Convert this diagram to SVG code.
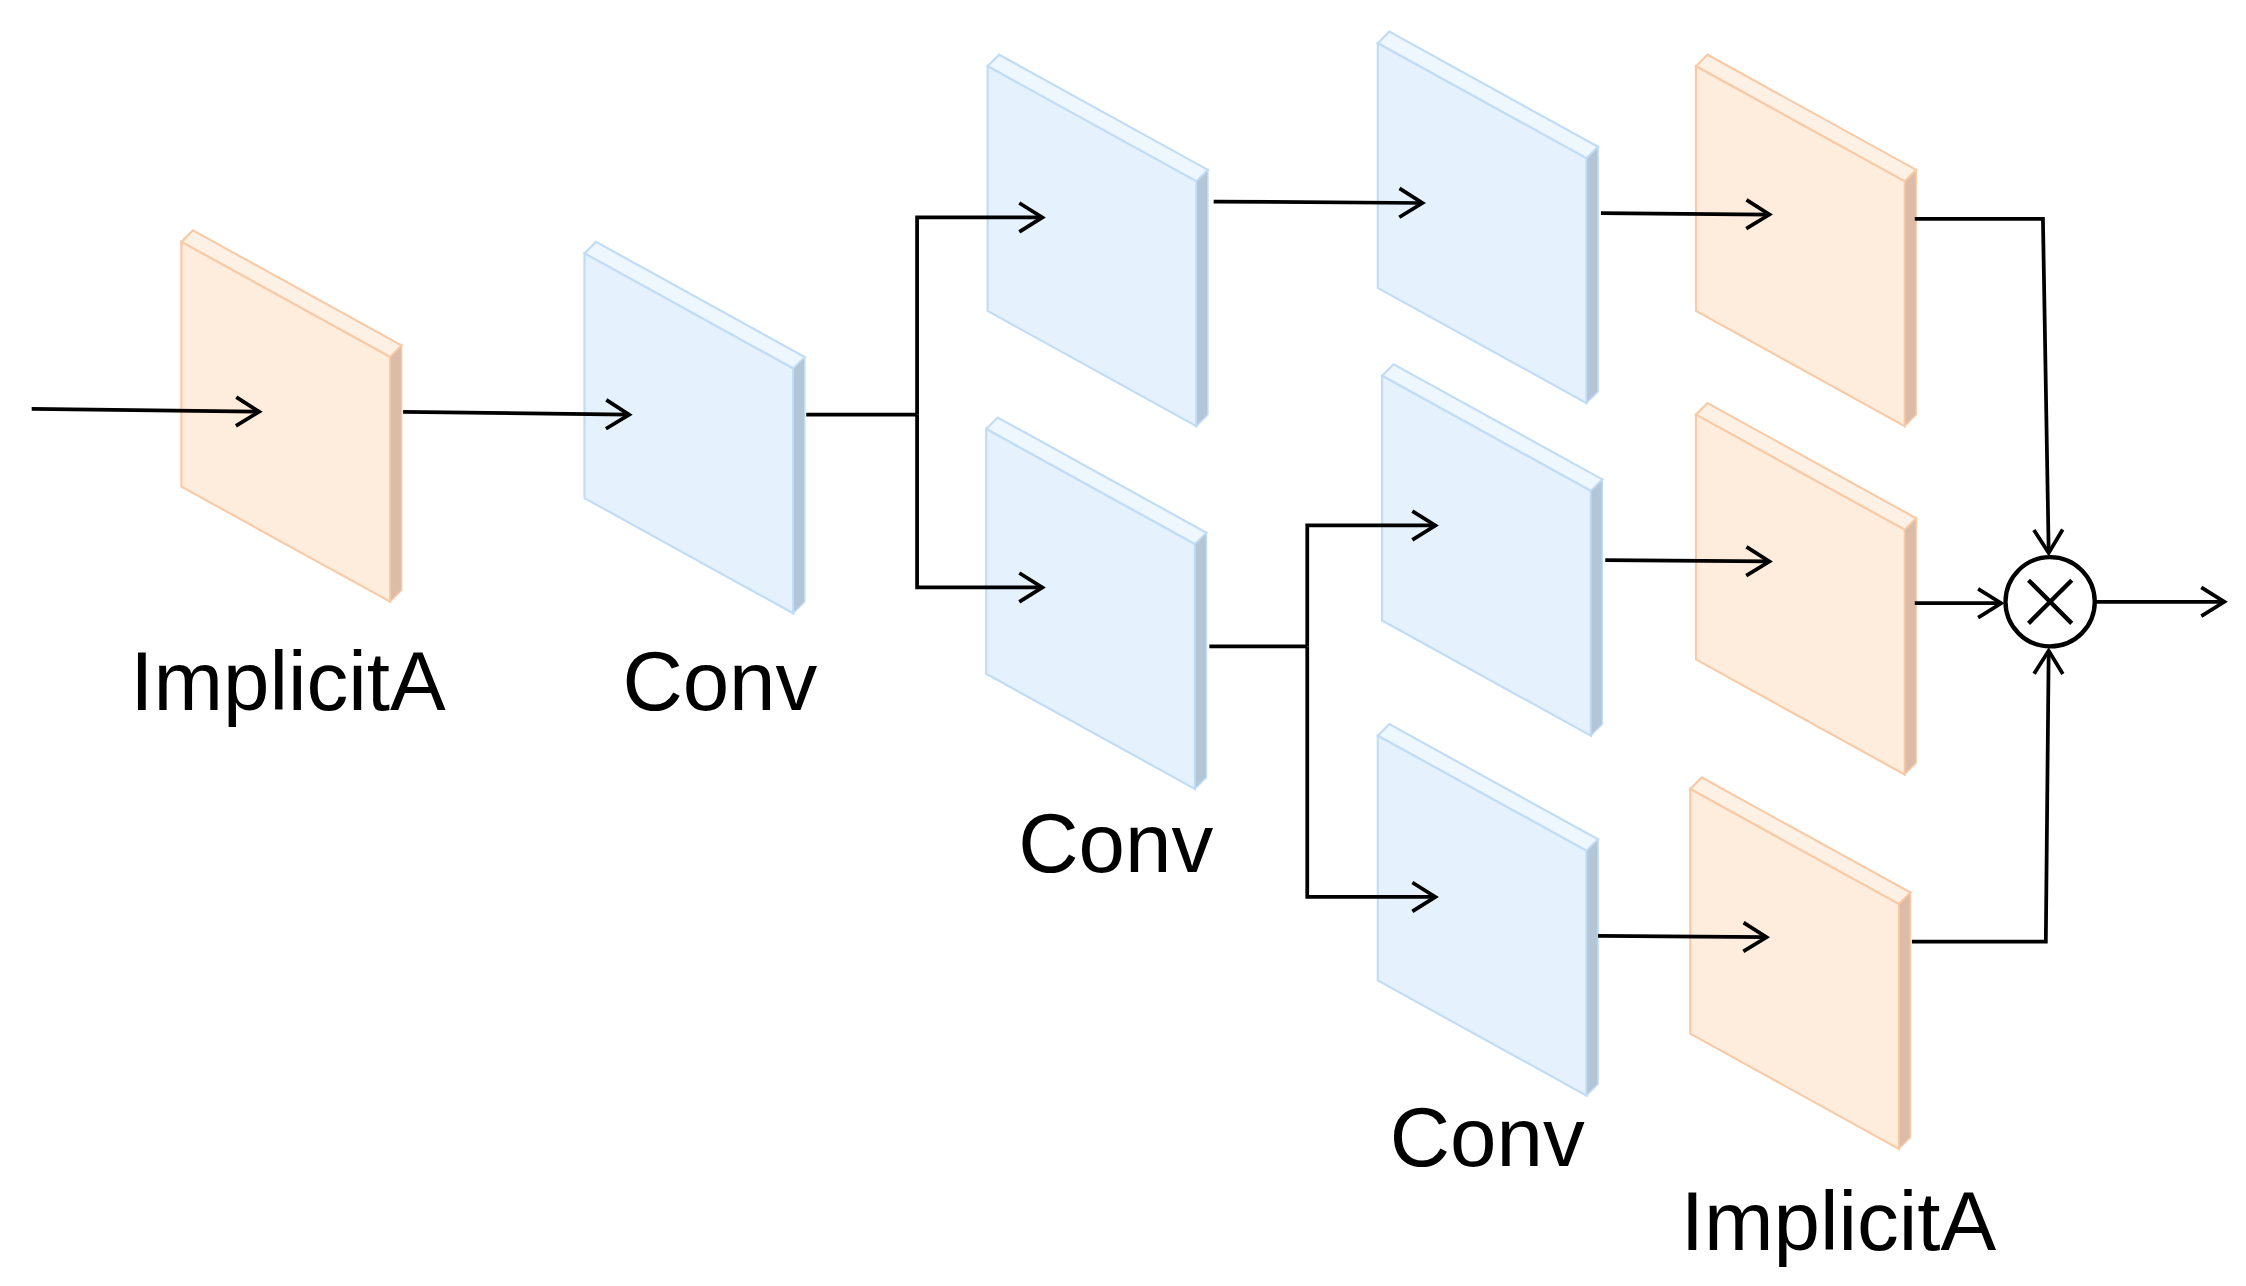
<svg xmlns="http://www.w3.org/2000/svg" width="2246" height="1286" viewBox="0 0 2246 1286">
<style>
.or{--f:#feecdc;--t:#fdf0e4;--s:#dcbca8;--k:#f8cba6}
.bl{--f:#e5f2fd;--t:#eef6fe;--s:#b3c6d8;--k:#c0dcf6}
.pf{fill:var(--f);stroke:var(--k);stroke-width:1.5}
.pt{fill:var(--t);stroke:var(--k);stroke-width:1.5}
.ps{fill:var(--s);stroke:var(--k);stroke-width:1}
.c{fill:none;stroke:#000;stroke-width:2.6}
.a{marker-end:url(#ah)}
text{font-family:"Liberation Sans",Arial,sans-serif;font-size:58px;fill:#000;text-anchor:middle}
</style>
<defs>
<marker id="ah" viewBox="0 0 20 20" refX="19" refY="10" markerWidth="20" markerHeight="20" markerUnits="userSpaceOnUse" orient="auto" overflow="visible">
<polyline points="3,0 19,10 3,20" fill="none" stroke="#000" stroke-width="2.6"/>
</marker>
<g id="panel">
<polygon class="pt" points="0,8 8,0 153,80 145,88"/>
<polygon class="pf" points="0,8 145,88 145,258 0,178"/>
<polygon class="ps" points="145,88 153,80 153,250 145,258"/>
</g>
</defs>
<rect width="2246" height="1286" fill="#fff"/>
<g transform="scale(1.4397)">
<g id="n1" class="or" transform="translate(126,160)"><use href="#panel"/></g>
<g id="n2" class="bl" transform="translate(406,168)"><use href="#panel"/></g>
<g id="n3" class="bl" transform="translate(686,38)"><use href="#panel"/></g>
<g id="n4" class="bl" transform="translate(685,290)"><use href="#panel"/></g>
<g id="n5" class="bl" transform="translate(957,22)"><use href="#panel"/></g>
<g id="n6" class="bl" transform="translate(960,253)"><use href="#panel"/></g>
<g id="n7" class="bl" transform="translate(957,503)"><use href="#panel"/></g>
<g id="n8" class="or" transform="translate(1178,38)"><use href="#panel"/></g>
<g id="n9" class="or" transform="translate(1178,280)"><use href="#panel"/></g>
<g id="n10" class="or" transform="translate(1174,540)"><use href="#panel"/></g>
<g id="mul">
<circle cx="1424" cy="418" r="31" fill="#fff" stroke="#000" stroke-width="3"/>
<path d="M1409,403 L1439,433 M1439,403 L1409,433" stroke="#000" stroke-width="3"/>
</g>
<g id="labels">
<text x="200" y="493">ImplicitA</text>
<text x="500" y="493">Conv</text>
<text x="775" y="606">Conv</text>
<text x="1033" y="810">Conv</text>
<text x="1277" y="868">ImplicitA</text>
</g>
<g id="connectors">
<path class="c a" d="M22,284 L180,286"/>
<path class="c a" d="M280,286 L437,288"/>
<path class="c" d="M560,288 L637,288"/>
<path class="c a" d="M637,288 L637,151 L724,151"/>
<path class="c a" d="M637,288 L637,408 L724,408"/>
<path class="c a" d="M843,140 L988,141"/>
<path class="c a" d="M1112,148 L1229,149"/>
<path class="c a" d="M1330,152 L1419,152 L1423,384"/>
<path class="c" d="M840,449 L908,449"/>
<path class="c a" d="M908,449 L908,365 L997,365"/>
<path class="c a" d="M908,449 L908,623 L997,623"/>
<path class="c a" d="M1115,389 L1229,390"/>
<path class="c a" d="M1110,650 L1227,651"/>
<path class="c a" d="M1330,419 L1390,419"/>
<path class="c a" d="M1328,654 L1421,654 L1423,452"/>
<path class="c a" d="M1456,418 L1545,418"/>
</g>
</g>
</svg>
